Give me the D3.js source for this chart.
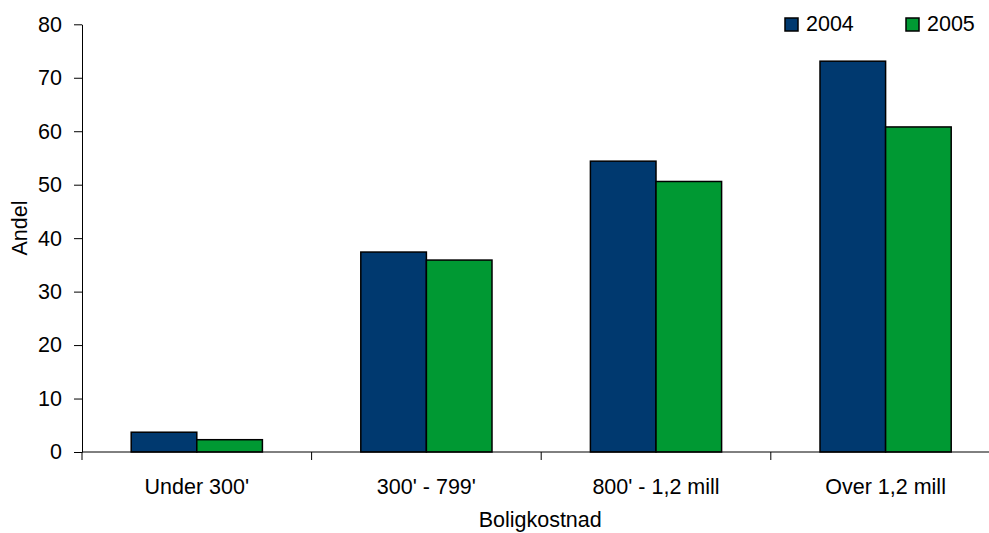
<!DOCTYPE html>
<html>
<head>
<meta charset="utf-8">
<script src="https://cdn.jsdelivr.net/npm/d3@7"></script>
<style>
  html, body { margin: 0; padding: 0; background: #fff; }
  svg { display: block; font-family: "Liberation Sans", Arial, sans-serif; }
</style>
</head>
<body>
<svg id="chart" width="989" height="533"></svg>
<script>
const categories = ["Under 300'", "300' - 799'", "800' - 1,2 mill", "Over 1,2 mill"];
const seriesNames = ["2004", "2005"];
const values2004 = [3.7, 37.4, 54.4, 73.1];
const values2005 = [2.3, 35.9, 50.6, 60.8];
const yTicks = [0, 10, 20, 30, 40, 50, 60, 70, 80];
const colors = ["#00396F", "#009933"];

(function () {
const seriesValues = [values2004, values2005];
const svg = d3.select("#chart");
const fontSize = 21.5;

const mLeft = 82, mRight = 1000.4, mTop = 24.3, mBottom = 452;

const x = d3.scaleBand().domain(categories).range([mLeft, mRight]).paddingInner(0).paddingOuter(0);
const bw = x.bandwidth();
const x1 = d3.scaleBand().domain(seriesNames).range([bw * 0.75 / 3.5, bw - bw * 0.75 / 3.5]).padding(0);
const y = d3.scaleLinear().domain([0, 80]).range([mBottom, mTop]);

// bars
const data = [];
categories.forEach((c, i) => seriesNames.forEach((s, j) => data.push({c, s, v: seriesValues[j][i], j})));
svg.append("g").selectAll("rect").data(data).join("rect")
  .attr("x", d => x(d.c) + x1(d.s))
  .attr("y", d => y(d.v))
  .attr("width", x1.bandwidth())
  .attr("height", d => y(0) - y(d.v))
  .attr("fill", d => colors[d.j])
  .attr("stroke", "#000")
  .attr("stroke-width", 1.5);

// y axis
const yAxis = svg.append("g").attr("transform", `translate(${mLeft},0)`)
  .call(d3.axisLeft(y).tickValues(yTicks).tickSize(8).tickPadding(12).tickSizeOuter(0));
yAxis.select(".domain").attr("stroke", "#000");
yAxis.selectAll(".tick line").attr("stroke", "#000");
yAxis.selectAll("text").attr("font-size", fontSize).attr("fill", "#000")
  .attr("font-family", "Liberation Sans, Arial, sans-serif");

// x axis line
svg.append("line").attr("x1", mLeft).attr("x2", mRight).attr("y1", y(0)).attr("y2", y(0))
  .attr("stroke", "#000").attr("stroke-width", 1);
// x ticks at band edges
const edges = categories.map(c => x(c)).concat([x(categories[categories.length - 1]) + bw]);
svg.append("g").selectAll("line").data(edges).join("line")
  .attr("x1", d => d).attr("x2", d => d)
  .attr("y1", y(0)).attr("y2", y(0) + 8)
  .attr("stroke", "#000");
// x labels
svg.append("g").selectAll("text").data(categories).join("text")
  .attr("x", d => x(d) + bw / 2)
  .attr("y", 494)
  .attr("text-anchor", "middle")
  .attr("font-size", fontSize)
  .text(d => d);

// axis titles
svg.append("text").attr("x", (mLeft + mRight) / 2 - 1).attr("y", 527)
  .attr("text-anchor", "middle").attr("font-size", fontSize).text("Boligkostnad");
svg.append("text").attr("transform", "translate(27,228) rotate(-90)")
  .attr("text-anchor", "middle").attr("font-size", fontSize).text("Andel");

// legend
const legendX = [785, 906];
const lg = svg.append("g").selectAll("g").data(seriesNames).join("g")
  .attr("transform", (d, i) => `translate(${legendX[i]},18)`);
lg.append("rect").attr("width", 13).attr("height", 13)
  .attr("fill", (d, i) => colors[i]).attr("stroke", "#000").attr("stroke-width", 1.5);
lg.append("text").attr("x", 21).attr("y", 13).attr("font-size", fontSize).text(d => d);
})();
</script>
</body>
</html>
